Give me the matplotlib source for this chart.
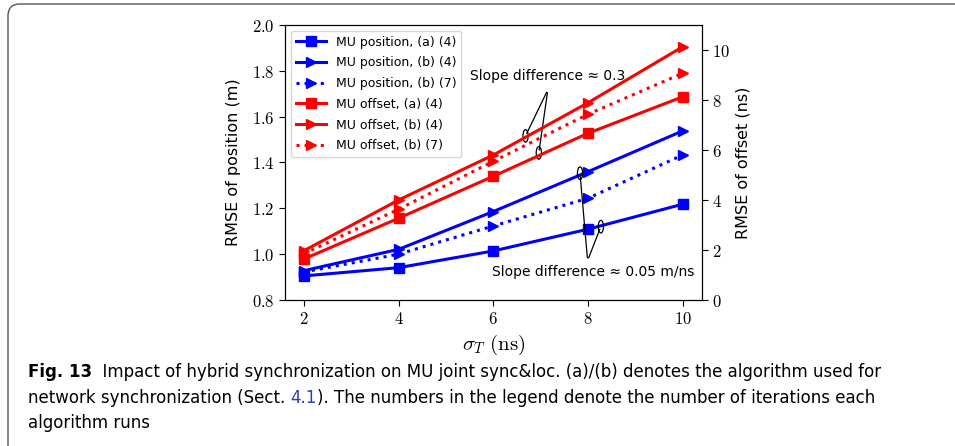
import matplotlib
matplotlib.use("Agg")
import matplotlib.pyplot as plt
from matplotlib.patches import Ellipse, PathPatch
from matplotlib.path import Path
from matplotlib.transforms import IdentityTransform
from matplotlib.ticker import FuncFormatter

plt.rcParams["mathtext.fontset"] = "cm"
plt.rcParams["font.family"] = ["DejaVu Sans"]

# data
sigma_t = [2, 4, 6, 8, 10]
pos_a4 = [0.905, 0.941, 1.014, 1.109, 1.218]
pos_b4 = [0.928, 1.021, 1.186, 1.360, 1.538]
pos_b7 = [0.922, 1.000, 1.123, 1.244, 1.433]
off_a4 = [1.64, 3.27, 4.95, 6.67, 8.13]
off_b4 = [1.97, 4.00, 5.80, 7.89, 10.13]
off_b7 = [1.85, 3.63, 5.55, 7.43, 9.07]

labels = [
    "MU position, (a) (4)", "MU position, (b) (4)", "MU position, (b) (7)",
    "MU offset, (a) (4)", "MU offset, (b) (4)", "MU offset, (b) (7)",
]

caption_bold = "Fig. 13"
caption_1 = "  Impact of hybrid synchronization on MU joint sync&loc. (a)/(b) denotes the algorithm used for"
caption_2a = "network synchronization (Sect. "
caption_2b = "4.1"
caption_2c = "). The numbers in the legend denote the number of iterations each"
caption_3 = "algorithm runs"

fig = plt.figure(figsize=(9.55, 4.46), dpi=100)

# page frame: left edge + rounded corner + top edge, in pixels
frame_path = Path(
    [(8, -5), (8, 430), (8, 442), (20, 442), (960, 442)],
    [Path.MOVETO, Path.LINETO, Path.CURVE3, Path.CURVE3, Path.LINETO],
)
fig.patches.append(PathPatch(frame_path, transform=IdentityTransform(), fill=False,
                             edgecolor="#555555", lw=1.0))

ax = fig.add_axes([0.2984, 0.3274, 0.4364, 0.6166])
ax2 = ax.twinx()

lw, ms = 2.2, 7
h1, = ax.plot(sigma_t, pos_a4, color="blue", marker="s", lw=lw, ms=ms)
h2, = ax.plot(sigma_t, pos_b4, color="blue", marker=">", lw=lw, ms=ms)
h3, = ax.plot(sigma_t, pos_b7, color="blue", marker=">", lw=lw, ms=ms, ls=":")
h4, = ax2.plot(sigma_t, off_a4, color="red", marker="s", lw=lw, ms=ms)
h5, = ax2.plot(sigma_t, off_b4, color="red", marker=">", lw=lw, ms=ms)
h6, = ax2.plot(sigma_t, off_b7, color="red", marker=">", lw=lw, ms=ms, ls=":")

ax.set_xlim(1.6, 10.4)
ax.set_ylim(0.8, 2.0)
ax2.set_ylim(0, 11)
ax.set_xticks([2, 4, 6, 8, 10])
ax.set_yticks([0.8, 1.0, 1.2, 1.4, 1.6, 1.8, 2.0])
ax2.set_yticks([0, 2, 4, 6, 8, 10])
ax.xaxis.set_major_formatter(FuncFormatter(lambda v, p: f"${v:.0f}$"))
ax.yaxis.set_major_formatter(FuncFormatter(lambda v, p: f"${v:.1f}$"))
ax2.yaxis.set_major_formatter(FuncFormatter(lambda v, p: f"${v:.0f}$"))
for a in (ax, ax2):
    a.tick_params(labelsize=12, length=4)
ax.set_xlabel(r"$\sigma_T\ \mathrm{(ns)}$", fontsize=15, labelpad=3)
ax.set_ylabel("RMSE of position (m)", fontsize=11.5, labelpad=8)
ax2.set_ylabel("RMSE of offset (ns)", fontsize=11.5, labelpad=4)

ax.legend([h1, h2, h3, h4, h5, h6], labels, loc="upper left", fontsize=9,
          handlelength=2.4, borderaxespad=0.45, labelspacing=0.62)

# slope annotations
ann_kw = dict(arrowprops=dict(arrowstyle="-", color="black", lw=0.9))
ax.annotate("", xy=(6.68, 1.516), xytext=(7.15, 1.717), **ann_kw)
ax.annotate("", xy=(6.96, 1.442), xytext=(7.15, 1.717), **ann_kw)
ax.text(7.15, 1.779, "Slope difference \u2248 0.3", ha="center", va="center", fontsize=10)
ax.annotate("", xy=(7.83, 1.353), xytext=(7.99, 0.972), **ann_kw)
ax.annotate("", xy=(8.27, 1.12), xytext=(7.99, 0.972), **ann_kw)
ax.text(8.10, 0.924, "Slope difference \u2248 0.05 m/ns", ha="center", va="center", fontsize=10)
for ex, ey in [(6.68, 1.516), (6.96, 1.442), (7.83, 1.353), (8.27, 1.12)]:
    ax.add_patch(Ellipse((ex, ey), 0.11, 0.055, fill=False, edgecolor="black", lw=0.9, zorder=5))

# caption
cap_font = ["DejaVu Sans"]
t = fig.text(28 / 955, 1 - 372 / 446, caption_bold, fontsize=12, fontweight="bold",
             family=cap_font, va="center")
ax.annotate(caption_1, xy=(1, 0), xycoords=t, va="bottom", fontsize=12, family=cap_font,
            annotation_clip=False)
t2 = fig.text(28 / 955, 1 - 398 / 446, caption_2a, fontsize=12, family=cap_font, va="center")
t3 = ax.annotate(caption_2b, xy=(1, 0), xycoords=t2, va="bottom", fontsize=12, family=cap_font,
                 color="#2a3fbf", annotation_clip=False)
ax.annotate(caption_2c, xy=(1, 0), xycoords=t3, va="bottom", fontsize=12, family=cap_font,
            annotation_clip=False)
fig.text(28 / 955, 1 - 423 / 446, caption_3, fontsize=12, family=cap_font, va="center")

fig.savefig("out.png", dpi=100)
